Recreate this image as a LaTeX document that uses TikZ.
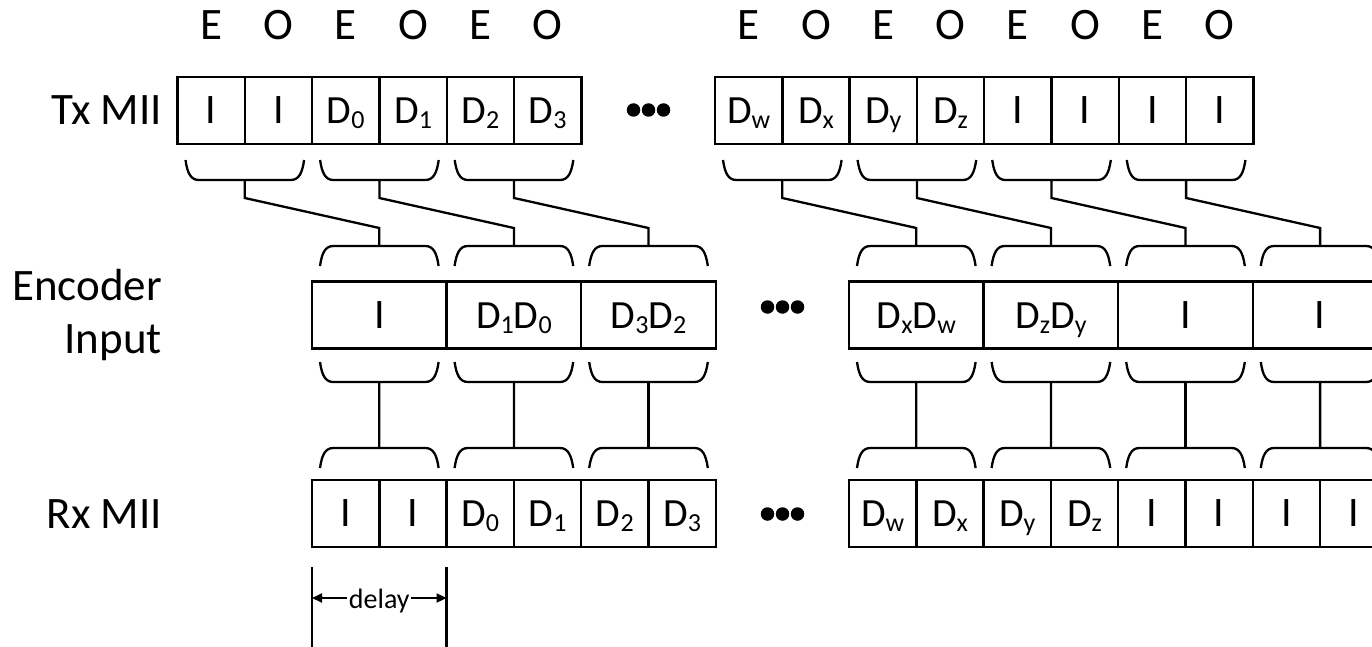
\documentclass[tikz,border=0pt]{standalone}
\usepackage{fontspec}
\setmainfont{Carlito}
\usetikzlibrary{arrows.meta,calc}

% subscripted data symbol
\newcommand\dsub[1]{\raisebox{-5pt}{\fontsize{26}{26}\selectfont #1}}
\newcommand\dat[1]{D\dsub{#1}}

\tikzset{
  % bracket whose ends point up, bar at the bottom; origin = bar centre
  cupbrace/.pic={
    \draw (-59.3,-20) .. controls (-57.5,-7) and (-54,0) .. (-46,0) -- (46,0)
          .. controls (54,0) and (57.5,-7) .. (59.3,-20);
    \coordinate (-c) at (0,0);
  },
  % bracket whose ends point down, bar on top; origin = bar centre
  capbrace/.pic={
    \draw (-59.3,20) .. controls (-57.5,7) and (-54,0) .. (-46,0) -- (46,0)
          .. controls (54,0) and (57.5,7) .. (59.3,20);
    \coordinate (-c) at (0,0);
  },
}

\begin{document}
\begin{tikzpicture}[x=1pt,y=-1pt,line width=2.3pt,
  cell/.style={draw, line width=2.4pt, minimum width=67.3pt, minimum height=67pt,
    inner sep=0pt, outer sep=0pt, text height=26pt, text depth=0pt,
    font=\fontsize{40}{40}\selectfont},
  idle/.style={cell, font=\fontsize{42}{42}\selectfont},
  wcell/.style={cell, minimum width=134.6pt},
  widle/.style={wcell, font=\fontsize{42}{42}\selectfont},
  lab/.style={font=\fontsize{45}{45}\selectfont, inner sep=0pt},
  dot/.style={circle, fill=black, draw=none, inner sep=0pt, minimum size=13.5pt},
]
\useasboundingbox (0,0) rectangle (1372,647);
\clip (0,0) rectangle (1372,647);

% ---------- row labels ----------
\node[lab, anchor=base east] (txlab) at (163,125) {Tx MII};
\node[lab, anchor=base east] (enlab1) at (163,300) {Encoder};
\node[lab, anchor=base east] (enlab2) at (163,353) {Input};
\node[lab, anchor=base east] (rxlab) at (163,528) {Rx MII};

% ---------- Tx MII ----------
\foreach \k/\s/\t in {0/idle/I, 1/idle/I, 2/cell/\dat{0}, 3/cell/\dat{1}, 4/cell/\dat{2}, 5/cell/\dat{3}}
  \node[\s] (tx\k) at ({177.5+67.3*(\k+0.5)},110.5) {\t};
\foreach \k/\s/\t in {6/cell/\dat{w}, 7/cell/\dat{x}, 8/cell/\dat{y}, 9/cell/\dat{z}, 10/idle/I, 11/idle/I, 12/idle/I, 13/idle/I}
  \node[\s] (tx\k) at ({715+67.3*(\k-6+0.5)},110.5) {\t};

% even / odd markers above the Tx lanes
\foreach \k in {0,...,5}{
  \pgfmathsetmacro\lt{isodd(\k) ? "O" : "E"}
  \node[lab, anchor=base] (eo\k) at ({177.5+67.3*(\k+0.5)},40) {\lt};
}
\foreach \k in {6,...,13}{
  \pgfmathsetmacro\lt{isodd(\k) ? "O" : "E"}
  \node[lab, anchor=base] (eo\k) at ({715+67.3*(\k-6+0.5)},40) {\lt};
}

% ---------- Encoder input ----------
\foreach \k/\s/\t in {0/widle/I, 1/wcell/\dat{1}\dat{0}, 2/wcell/\dat{3}\dat{2}}
  \node[\s] (en\k) at ({312+134.6*(\k+0.5)},315) {\t};
\foreach \k/\s/\t in {3/wcell/\dat{x}\dat{w}, 4/wcell/\dat{z}\dat{y}, 5/widle/I, 6/widle/I}
  \node[\s] (en\k) at ({849+134.6*(\k-3+0.5)},315) {\t};

% ---------- Rx MII ----------
\foreach \k/\s/\t in {0/idle/I, 1/idle/I, 2/cell/\dat{0}, 3/cell/\dat{1}, 4/cell/\dat{2}, 5/cell/\dat{3}}
  \node[\s] (rx\k) at ({312+67.3*(\k+0.5)},513.5) {\t};
\foreach \k/\s/\t in {6/cell/\dat{w}, 7/cell/\dat{x}, 8/cell/\dat{y}, 9/cell/\dat{z}, 10/idle/I, 11/idle/I, 12/idle/I, 13/idle/I}
  \node[\s] (rx\k) at ({849+67.3*(\k-6+0.5)},513.5) {\t};

% ---------- ellipses ----------
\foreach \i in {-1,0,1}{
  \node[dot] (txd\i) at ({648.5+15*\i},110) {};
  \node[dot] (end\i) at ({782.5+15*\i},307) {};
  \node[dot] (rxd\i) at ({782.5+15*\i},514) {};
}

% ---------- brackets ----------
\coordinate (txbar) at (0,180);
\coordinate (entop) at (0,246);
\coordinate (enbot) at (0,382);
\coordinate (rxtop) at (0,448);
\foreach \k [evaluate=\k as \a using int(2*\k)] in {0,...,6}{
  \pic (tb\k) at (tx\a.east |- txbar) {cupbrace};
  \pic (et\k) at (en\k.center |- entop) {capbrace};
  \pic (eb\k) at (en\k.center |- enbot) {cupbrace};
  \pic (rb\k) at (rx\a.east |- rxtop) {capbrace};
}

% ---------- lane connections ----------
\foreach \k in {0,...,6}{
  \draw (tb\k-c) -- ++(0,18) -- ($(et\k-c)+(0,-18)$) -- (et\k-c);
  \draw (eb\k-c) -- (rb\k-c);
}

% ---------- delay marker ----------
\coordinate (dlt) at ($(rx0.south west)+(0,20)$);
\coordinate (dlb) at ($(rx0.south west)+(0,110)$);
\coordinate (drt) at ($(rx1.south east)+(0,20)$);
\coordinate (drb) at ($(rx1.south east)+(0,110)$);
\coordinate (dal) at ($(rx0.south west)+(0,51)$);
\coordinate (dar) at ($(rx1.south east)+(0,51)$);
\draw (dlt) -- (dlb);
\draw (drt) -- (drb);
\draw[line width=1.8pt, {Triangle[length=10pt,width=9pt]}-{Triangle[length=10pt,width=9pt]}]
  (dal) -- (dar) node[midway, fill=white, inner sep=1.5pt, yshift=-3pt,
    font=\fontsize{28}{28}\selectfont] (dtext) {delay};
\end{tikzpicture}
\end{document}
